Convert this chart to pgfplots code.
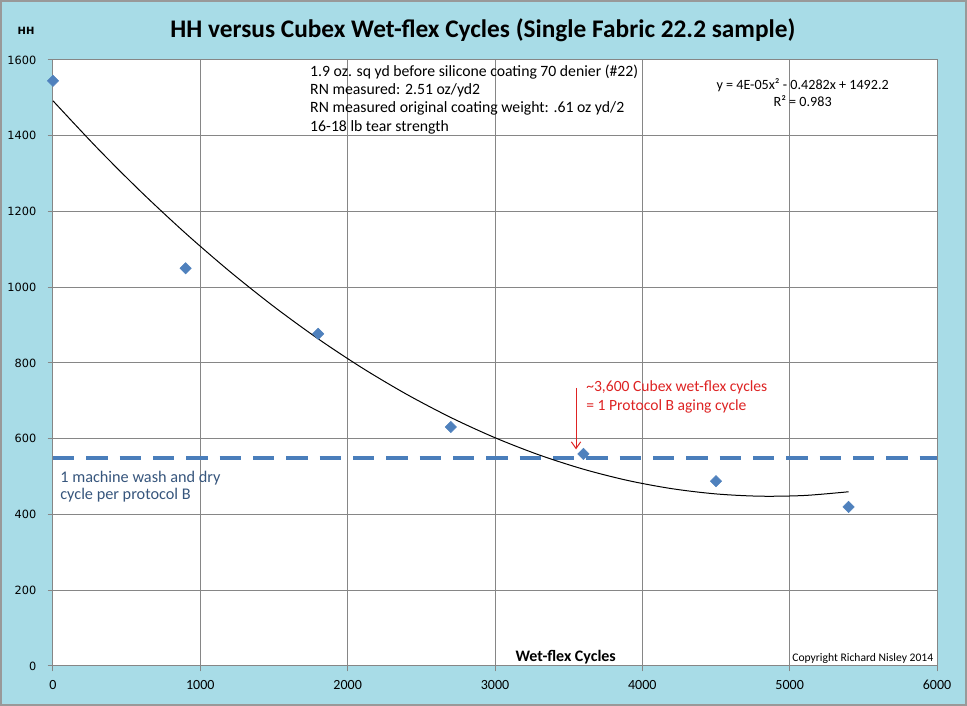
\documentclass[border=0pt]{standalone}
\usepackage{pgfplots}
\pgfplotsset{compat=1.18}
\usepackage{fontspec}
\setmainfont{Carlito}
\newfontfamily\dejavu{DejaVu Sans}
\usetikzlibrary{arrows.meta}

\definecolor{bgblue}{RGB}{168,220,231}
\definecolor{mk}{RGB}{79,129,189}
\definecolor{dashc}{RGB}{74,126,187}
\definecolor{gridc}{RGB}{134,134,134}
\definecolor{notec}{RGB}{55,86,125}
\definecolor{redc}{RGB}{222,35,35}

\pgfplotstableread{
x y
0 1545
900 1050
1800 877
2700 631
3600 560
4500 488
5400 420
}\hhdata

\begin{document}
\begin{tikzpicture}
\fill[bgblue] (0pt,0pt) rectangle (725.25pt,529.5pt);
\draw[gray!80,line width=1.2pt] (0.6pt,0.6pt) rectangle (724.65pt,528.9pt);
\node[font=\bfseries\fontsize{19}{22}\selectfont] at (362.25pt,507pt) {HH versus Cubex Wet-flex Cycles (Single Fabric 22.2 sample)};
\node[font=\dejavu\bfseries\fontsize{7.5}{9}\selectfont] at (19.5pt,506.5pt) {HH};
\begin{axis}[at={(39.75pt,30pt)}, anchor=south west, scale only axis,
  width=663pt, height=454.5pt,
  xmin=0, xmax=6000, ymin=0, ymax=1600,
  xtick={0,1000,2000,3000,4000,5000,6000},
  ytick={0,200,400,600,800,1000,1200,1400,1600},
  xtick pos=bottom, ytick pos=left,
  grid=major, major grid style={gridc, line width=0.75pt},
  axis line style={gridc, line width=0.75pt},
  axis background/.style={fill=white},
  tick style={gridc, line width=0.75pt}, tick align=outside, major tick length=4pt,
  xticklabel style={font=\fontsize{10.5}{12}\selectfont, yshift=-3pt},
  yticklabel style={font=\dejavu\fontsize{8.5}{10}\selectfont, xshift=-5pt},
  /pgf/number format/assume math mode=true,
  /pgf/number format/set thousands separator={},
  clip=false,
]
\addplot[dashc, line width=3pt, dash pattern=on 16pt off 9pt] coordinates {(0,548) (6000,548)};
\addplot[black, line width=0.75pt, smooth] coordinates {
(0,1492.2) (300,1367.7) (600,1251.1) (900,1142.4) (1200,1041.6) (1500,948.7)
(1800,863.7) (2100,786.6) (2400,717.4) (2700,656.1) (3000,602.7) (3300,557.2)
(3600,519.6) (3900,489.9) (4200,468.2) (4500,454.3) (4800,448.3) (5100,450.2) (5400,460.0)};
\addplot[only marks, mark=square*, mark size=3pt, mark options={rotate=45, fill=mk, draw=mk}] table[x=x,y=y] {\hhdata};

\node[anchor=north west, align=left, font=\fontsize{11.8}{13.75}\selectfont, inner sep=0pt] at (rel axis cs:0.2907,0.993)
 {1.9 oz. sq yd before silicone coating 70 denier (\#22)\\RN measured: 2.51 oz/yd2\\RN measured original coating weight: .61 oz yd/2\\16-18 lb tear strength};
\node[align=center, font=\fontsize{10.6}{12.75}\selectfont, inner sep=0pt] at (rel axis cs:0.848,0.946)
 {y = 4E-05x² - 0.4282x + 1492.2\\R² = 0.983};
\node[anchor=north west, align=left, text=notec, font=\fontsize{12.2}{12.75}\selectfont, inner sep=0pt] at (rel axis cs:0.008,0.3225)
 {1 machine wash and dry\\cycle per protocol B};
\node[anchor=north west, align=left, text=redc, font=\fontsize{11.7}{14.25}\selectfont, inner sep=0pt] at (rel axis cs:0.603,0.471)
 {\textasciitilde3,600 Cubex wet-flex cycles\\= 1 Protocol B aging cycle};
\draw[redc, line width=0.75pt, -{Straight Barb[length=5pt,width=7pt]}] (axis cs:3550,734) -- (axis cs:3550,572);
\node[font=\bfseries\fontsize{12}{14}\selectfont] at (rel axis cs:0.58,0.0149) {Wet-flex Cycles};
\node[font=\fontsize{8.7}{10}\selectfont] at (rel axis cs:0.916,0.0116) {Copyright Richard Nisley 2014};
\end{axis}
\end{tikzpicture}
\end{document}
